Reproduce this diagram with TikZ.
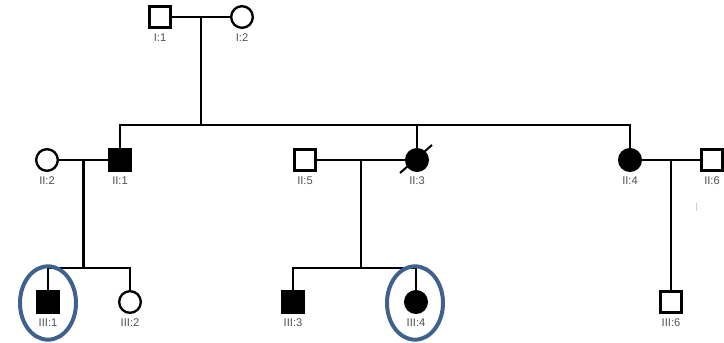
\documentclass[tikz,border=0pt]{standalone}
\usepackage{fontspec}
\setmainfont{Liberation Sans}
\usetikzlibrary{positioning,calc}
\definecolor{lineclr}{RGB}{0,0,0}
\definecolor{lblclr}{RGB}{80,80,80}
\definecolor{ringclr}{RGB}{62,97,142}
\definecolor{tickclr}{RGB}{205,205,205}
\tikzset{
  male/.style={rectangle,draw=lineclr,fill=white,line width=2pt,
    minimum size=0.63cm,inner sep=0pt},
  female/.style={circle,draw=lineclr,fill=white,line width=2pt,
    minimum size=0.65cm,inner sep=0pt},
  aff/.style={fill=lineclr},
  lnk/.style={line width=1.8pt,color=lineclr},
  idlbl/.style={font=\fontsize{9.5}{10}\selectfont,text=lblclr,inner sep=1pt},
  ring/.style={line width=3.4pt,color=ringclr},
}

\begin{document}
\begin{tikzpicture}[x=0.03cm,y=-0.03cm]
  \useasboundingbox (0,0) rectangle (724,343);

  % generation I
  \node[male]   (i1) at (160,17) {};
  \node[female] (i2) at (242,17) {};
  % generation II
  \node[female]     (ii2) at (47,160)  {};
  \node[male,aff]   (ii1) at (120,160) {};
  \node[male]       (ii5) at (305,160) {};
  \node[female,aff] (ii3) at (417,160) {};
  \node[female,aff] (ii4) at (630,160) {};
  \node[male]       (ii6) at (712,160) {};
  % generation III
  \node[male,aff]   (iii1) at (48,302)  {};
  \node[female]     (iii2) at (130,302) {};
  \node[male,aff]   (iii3) at (293,302) {};
  \node[female,aff] (iii4) at (416,302) {};
  \node[male]       (iii6) at (671,302) {};

  \foreach \n/\t in {i1/I:1,i2/I:2,ii2/II:2,ii1/II:1,ii5/II:5,ii3/II:3,
      ii4/II:4,ii6/II:6,iii1/III:1,iii2/III:2,iii3/III:3,iii4/III:4,iii6/III:6}
    \node[idlbl,below=0.1cm of \n] (\n l) {\t};

  % couples
  \draw[lnk] (i1) -- (i2);
  \draw[lnk] (ii2) -- (ii1);
  \draw[lnk] (ii5) -- (ii3);
  \draw[lnk] (ii4) -- (ii6);
  \coordinate (m1) at ($(i1)!0.5!(i2)$);
  \coordinate (m2) at ($(ii2)!0.5!(ii1)$);
  \coordinate (m3) at ($(ii5)!0.5!(ii3)$);
  \coordinate (m4) at ($(ii4)!0.5!(ii6)$);
  \coordinate (s1) at ($(m1)+(0,108)$);
  \coordinate (s2) at ($(m2)+(0,108)$);
  \coordinate (s3) at ($(m3)+(0,108)$);

  % sibships
  \draw[lnk] (m1) -- (s1);
  \draw[lnk] (ii1.north) |- (s1) -| (ii4.north);
  \draw[lnk] (ii3.north) -- (ii3.north |- s1);
  \draw[lnk] (m2) -- (s2);
  \draw[lnk] (iii1.north) |- (s2) -| (iii2.north);
  \draw[lnk] (m3) -- (s3);
  \draw[lnk] (iii3.north) |- (s3) -| (iii4.north);
  \draw[lnk] (m4) -- (m4 |- iii6.north);

  % deceased
  \draw[line width=1.7pt] ($(ii3)+(-17,13)$) -- ($(ii3)+(15,-15)$);

  % probands
  \draw[ring] ($(iii1)+(0,1)$) ellipse (0.84cm and 1.1cm);
  \draw[ring] ($(iii4)+(-1,1)$) ellipse (0.84cm and 1.1cm);

  \draw[tickclr,line width=0.8pt] (696,203) -- (696,211);
\end{tikzpicture}
\end{document}
